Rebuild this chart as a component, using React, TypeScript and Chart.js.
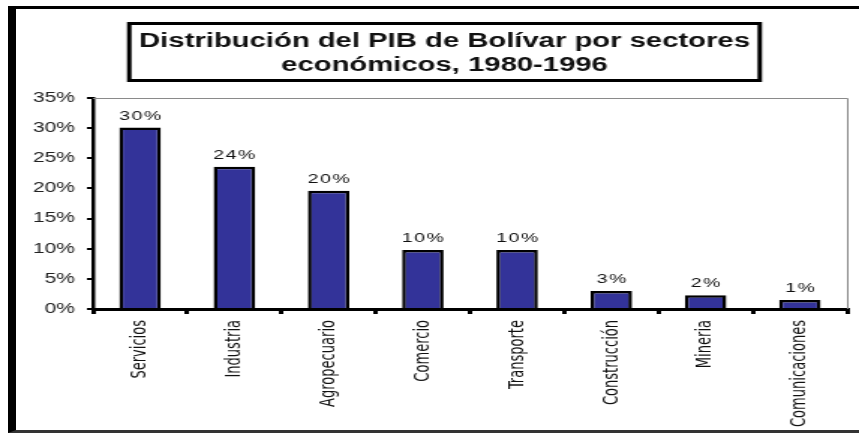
import { useEffect, useRef } from 'react';
import { Chart, registerables } from 'chart.js';

Chart.register(...registerables);

const categories = ['Servicios', 'Industria', 'Agropecuario', 'Comercio', 'Transporte', 'Construcción', 'Mineria', 'Comunicaciones'];
const values = [30.1, 23.6, 19.6, 9.8, 9.8, 3.0, 2.3, 1.5];
const valueLabels = ['30%', '24%', '20%', '10%', '10%', '3%', '2%', '1%'];
const yMin = 0;
const yMax = 35;
const yStep = 5;
const titleLines = ['Distribución del PIB de Bolívar por sectores', 'económicos, 1980-1996'];

const PAGE_W = 859;
const PAGE_H = 436;
const CW = 573; // canvas bitmap width (stretched horizontally to page width)
const SX = PAGE_W / CW;

const BASE_FONT = '"Liberation Sans", Arial, sans-serif';
const NARROW_FONT = '"Liberation Sans Narrow", "Arial Narrow", "DejaVu Sans Condensed", "Liberation Sans", sans-serif';

const plotFramePlugin = {
  id: 'plotFrame',
  afterDraw(chart: any) {
    const { ctx, chartArea } = chart;
    ctx.save();
    ctx.strokeStyle = '#8a8a8a';
    ctx.lineWidth = 1;
    ctx.beginPath();
    ctx.moveTo(chartArea.left, chartArea.top + 0.5);
    ctx.lineTo(chartArea.right + 0.5, chartArea.top + 0.5);
    ctx.lineTo(chartArea.right + 0.5, chartArea.bottom);
    ctx.stroke();
    ctx.restore();
  },
};

const valueLabelPlugin = {
  id: 'valueLabels',
  afterDatasetsDraw(chart: any) {
    const { ctx } = chart;
    const meta = chart.getDatasetMeta(0);
    ctx.save();
    ctx.fillStyle = '#111';
    ctx.font = `13px ${BASE_FONT}`;
    try { (ctx as any).letterSpacing = '1px'; } catch (e) {}
    ctx.textAlign = 'center';
    ctx.textBaseline = 'alphabetic';
    meta.data.forEach((bar: any, i: number) => {
      ctx.fillText(valueLabels[i], bar.x + 0.5, bar.y - 8);
    });
    ctx.restore();
  },
};

const titleBoxPlugin = {
  id: 'titleBox',
  afterDraw(chart: any) {
    const { ctx } = chart;
    const left = 127 / SX;
    const right = 762 / SX;
    const top = 22;
    const bottom = 82;
    ctx.save();
    ctx.fillStyle = '#fff';
    ctx.fillRect(left, top, right - left, bottom - top);
    ctx.strokeStyle = '#000';
    ctx.lineWidth = 3;
    ctx.strokeRect(left + 1.5, top + 1.5, right - left - 3, bottom - top - 3);
    ctx.fillStyle = '#111';
    ctx.font = `bold 19.5px ${BASE_FONT}`;
    ctx.textAlign = 'center';
    ctx.textBaseline = 'alphabetic';
    const cx = 444.5 / SX;
    ctx.fillText(titleLines[0], cx, 47);
    ctx.fillText(titleLines[1], cx, 71);
    ctx.restore();
  },
};

export default function App() {
  const canvasRef = useRef<HTMLCanvasElement | null>(null);

  useEffect(() => {
    if (!canvasRef.current) return;
    const chart = new Chart(canvasRef.current, {
      type: 'bar',
      data: {
        labels: categories,
        datasets: [
          {
            data: values,
            backgroundColor: '#333399',
            borderColor: '#000',
            borderWidth: 2.5,
            barPercentage: 0.44,
            categoryPercentage: 1.0,
          },
        ],
      },
      options: {
        responsive: false,
        animation: false,
        devicePixelRatio: 1,
        layout: { padding: { top: 98, right: CW - 565, left: 0, bottom: 0 } },
        plugins: {
          legend: { display: false },
          title: { display: false },
          tooltip: { enabled: false },
        },
        scales: {
          x: {
            afterFit: (scale: any) => {
              scale.height = PAGE_H - 309;
            },
            grid: {
              display: true,
              drawOnChartArea: false,
              drawTicks: true,
              tickLength: 5,
              color: '#000',
              lineWidth: 3,
              offset: true,
            },
            border: { display: true, color: '#000', width: 3 },
            ticks: {
              autoSkip: false,
              maxRotation: 90,
              minRotation: 90,
              padding: 6,
              color: '#111',
              font: { family: NARROW_FONT, size: 14.5 },
            },
          },
          y: {
            min: yMin,
            max: yMax,
            afterFit: (scale: any) => {
              scale.width = 62;
            },
            grid: {
              display: true,
              drawOnChartArea: false,
              drawTicks: true,
              tickLength: 4,
              color: '#000',
              lineWidth: 2,
            },
            border: { display: true, color: '#000', width: 2.5 },
            ticks: {
              stepSize: yStep,
              padding: 8,
              color: '#222',
              font: { family: BASE_FONT, size: 14 },
              callback: (v: any) => `${v}%`,
            },
          },
        },
      },
      plugins: [plotFramePlugin, valueLabelPlugin, titleBoxPlugin],
    });
    return () => chart.destroy();
  }, []);

  return (
    <div style={{ position: 'fixed', left: 0, top: 0, width: PAGE_W, height: PAGE_H, overflow: 'hidden', background: '#fff' }}>
      <div
        style={{
          position: 'absolute',
          left: 8,
          top: 6,
          width: PAGE_W - 8 - 8,
          height: 432 - 6 - 3 - 2,
          borderLeft: '8px solid #000',
          borderTop: '3px solid #000',
          borderBottom: '3px solid #333',
        }}
      />
      <canvas
        ref={canvasRef}
        width={CW}
        height={PAGE_H}
        style={{ position: 'absolute', left: 0, top: 0, width: `${PAGE_W}px`, height: `${PAGE_H}px` }}
      />
    </div>
  );
}
